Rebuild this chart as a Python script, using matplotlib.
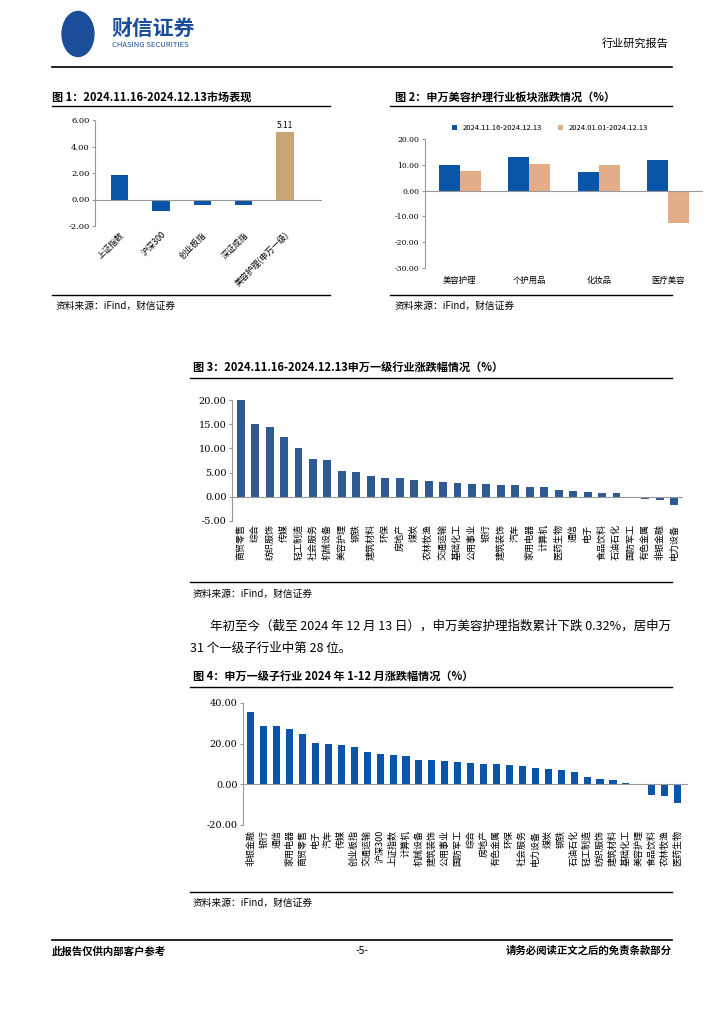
import matplotlib.pyplot as plt
import numpy as np

plt.rcParams['font.family'] = ['Noto Sans CJK SC', 'DejaVu Sans']
plt.rcParams['axes.unicode_minus'] = False

# ---- data ----
f1_labels = ['上证指数', '沪深300', '创业板指', '深证成指', '美容护理(申万一级)']
f1_values = [1.87, -0.88, -0.45, -0.38, 5.11]

f2_labels = ['美容护理', '个护用品', '化妆品', '医疗美容']
f2_recent = [10.1, 12.9, 7.2, 11.9]
f2_ytd = [7.6, 10.4, 10.1, -12.6]
f2_series = ['2024.11.16-2024.12.13', '2024.01.01-2024.12.13']

f3_labels = ['商贸零售', '综合', '纺织服饰', '传媒', '轻工制造', '社会服务', '机械设备', '美容护理',
             '钢铁', '建筑材料', '环保', '房地产', '煤炭', '农林牧渔', '交通运输', '基础化工',
             '公用事业', '银行', '建筑装饰', '汽车', '家用电器', '计算机', '医药生物', '通信',
             '电子', '食品饮料', '石油石化', '国防军工', '有色金属', '非银金融', '电力设备']
f3_values = [20.0, 15.1, 14.4, 12.3, 10.1, 7.9, 7.7, 5.3, 5.1, 4.2, 3.8, 3.8, 3.4, 3.3, 3.1, 2.9,
             2.7, 2.7, 2.5, 2.5, 2.1, 2.0, 1.4, 1.1, 1.0, 0.7, 0.7, -0.2, -0.4, -0.6, -1.7]

f4_labels = ['非银金融', '银行', '通信', '家用电器', '商贸零售', '电子', '汽车', '传媒', '创业板指',
             '交通运输', '沪深300', '上证指数', '计算机', '机械设备', '建筑装饰', '公用事业',
             '国防军工', '综合', '房地产', '有色金属', '环保', '社会服务', '电力设备', '煤炭',
             '钢铁', '石油石化', '轻工制造', '纺织服饰', '建筑材料', '基础化工', '美容护理',
             '食品饮料', '农林牧渔', '医药生物']
f4_values = [35.5, 28.7, 28.6, 27.3, 25.0, 20.5, 19.6, 19.2, 18.2, 16.0, 14.7, 14.2, 13.8, 12.0,
             12.0, 11.6, 11.1, 10.6, 10.2, 10.2, 9.3, 8.8, 7.9, 7.4, 7.0, 6.1, 3.8, 2.5, 2.0,
             0.7, -0.3, -5.0, -5.6, -9.1]

W, H = 724, 1024
fig = plt.figure(figsize=(W / 100, H / 100), dpi=100)


def ax_px(x0, y0, x1, y1):
    return fig.add_axes([x0 / W, 1 - y1 / H, (x1 - x0) / W, (y1 - y0) / H])


def hline(x0, x1, y, lw=1.0):
    fig.add_artist(plt.Line2D([x0 / W, x1 / W], [1 - y / H, 1 - y / H], color='black', lw=lw))


def txt(x, y, s, **kw):
    kw.setdefault('fontsize', 8)
    kw.setdefault('va', 'center')
    fig.text(x / W, 1 - y / H, s, **kw)


def style(ax, yt, fs=6):
    for s in ['top', 'right']:
        ax.spines[s].set_visible(False)
    ax.spines['bottom'].set_visible(False)
    ax.spines['left'].set_color('#999999')
    ax.axhline(0, color='#999999', lw=0.8)
    ax.set_yticks(yt)
    ax.set_yticklabels([f'{v:.2f}' for v in yt], fontsize=fs, family=['DejaVu Serif'])
    ax.tick_params(axis='y', length=2, color='#999999', pad=2)
    ax.tick_params(axis='x', length=0)


# ---- header ----
logo = plt.Circle((78 / W, 1 - 34 / H), 0.022, transform=fig.transFigure, color='#1a4e9a')
fig.add_artist(logo)
txt(112, 28, '财信证券', fontsize=15, color='#1a4e9a', weight='bold')
txt(112, 45, 'CHASING SECURITIES', fontsize=5.5, color='#1a4e9a')
txt(668, 43, '行业研究报告', fontsize=8, ha='right')
hline(52, 672, 67, 1.2)

# ---- figure 1 ----
txt(52, 97, '图 1：2024.11.16-2024.12.13市场表现', fontsize=8, weight='bold')
hline(52, 330, 106)
ax1 = ax_px(95, 120, 322, 226)
x = np.arange(len(f1_labels))
ax1.bar(x, f1_values, width=0.42, color=['#0a55a8'] * 4 + ['#c8a577'])
ax1.text(x[-1], f1_values[-1] + 0.3, f'{f1_values[-1]:.2f}', ha='center', fontsize=6)
ax1.set_xlim(-0.6, 4.9)
ax1.set_ylim(-2, 6)
style(ax1, [-2, 0, 2, 4, 6])
ax1.set_xticks(x)
ax1.set_xticklabels(f1_labels, rotation=45, ha='right', rotation_mode='anchor', fontsize=6)
ax1.xaxis.set_tick_params(pad=3)
hline(52, 330, 295)
txt(56, 306, '资料来源：iFind，财信证券', fontsize=7, style='italic')

# ---- figure 2 ----
txt(395, 97, '图 2：申万美容护理行业板块涨跌情况（%）', fontsize=8, weight='bold')
hline(390, 672, 106)
ax2 = ax_px(425, 139, 703, 268)
x = np.arange(len(f2_labels))
ax2.bar(x - 0.15, f2_recent, width=0.3, color='#0a55a8', label=f2_series[0])
ax2.bar(x + 0.15, f2_ytd, width=0.3, color='#e2ad88', label=f2_series[1])
ax2.set_xlim(-0.5, 3.5)
ax2.set_ylim(-30, 20)
style(ax2, [-30, -20, -10, 0, 10, 20], fs=5.5)
ax2.set_xticks(x)
ax2.set_xticklabels(f2_labels, fontsize=6)
ax2.xaxis.set_tick_params(pad=6)
ax2.legend(loc='lower center', bbox_to_anchor=(0.45, 1.0), ncol=2, frameon=False,
           fontsize=5.5, handlelength=0.7, handleheight=0.7, columnspacing=2)
hline(390, 672, 295)
txt(395, 306, '资料来源：iFind，财信证券', fontsize=7, style='italic')

# ---- figure 3 ----
txt(193, 367, '图 3：2024.11.16-2024.12.13申万一级行业涨跌幅情况（%）', fontsize=8, weight='bold')
hline(190, 672, 378)
ax3 = ax_px(232, 400, 683, 521)
x = np.arange(len(f3_labels))
ax3.bar(x, f3_values, width=0.55, color='#2e5a91')
ax3.set_xlim(-0.6, len(x) - 0.4)
ax3.set_ylim(-5, 20)
style(ax3, [-5, 0, 5, 10, 15, 20], fs=7)
ax3.set_xticks(x)
ax3.set_xticklabels(f3_labels, rotation=90, va='top', fontsize=6.5)
ax3.xaxis.set_tick_params(pad=2)
hline(190, 672, 582)
txt(193, 594, '资料来源：iFind，财信证券', fontsize=7, style='italic')

txt(210, 626, '年初至今（截至 2024 年 12 月 13 日），申万美容护理指数累计下跌 0.32%，居申万', fontsize=9)
txt(190, 648, '31 个一级子行业中第 28 位。', fontsize=9)

# ---- figure 4 ----
txt(193, 676, '图 4：申万一级子行业 2024 年 1-12 月涨跌幅情况（%）', fontsize=8, weight='bold')
hline(190, 672, 687)
ax4 = ax_px(243, 703, 688, 825)
x = np.arange(len(f4_labels))
ax4.bar(x, f4_values, width=0.55, color='#0a55a8')
ax4.set_xlim(-0.6, len(x) - 0.2)
ax4.set_ylim(-20, 40)
style(ax4, [-20, 0, 20, 40], fs=7)
ax4.set_xticks(x)
ax4.set_xticklabels(f4_labels, rotation=90, va='top', fontsize=6.5)
hline(190, 672, 892)
txt(193, 903, '资料来源：iFind，财信证券', fontsize=7, style='italic')

# ---- footer ----
hline(52, 672, 940, 1.2)
txt(52, 951, '此报告仅供内部客户参考', fontsize=7.5, weight='bold')
txt(362, 951, '-5-', fontsize=7.5, ha='center')
txt(672, 951, '请务必阅读正文之后的免责条款部分', fontsize=7.5, weight='bold', ha='right')

fig.savefig('out.png', dpi=100)
